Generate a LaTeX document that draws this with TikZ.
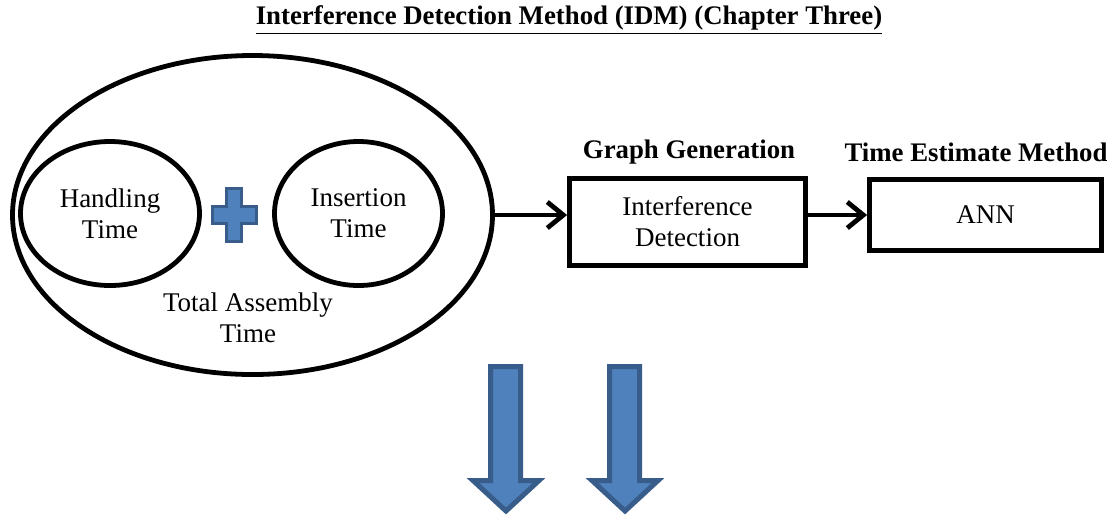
\documentclass[tikz,border=0pt]{standalone}
\usepackage{fontspec}
\setmainfont{Liberation Serif}
\usetikzlibrary{shapes.geometric,arrows.meta}
\definecolor{fillblue}{HTML}{4F81BD}
\definecolor{edgeblue}{HTML}{385D8A}
\begin{document}
\begin{tikzpicture}[x=0.5pt,y=-0.5pt,
  font=\fontsize{13.5}{15.5}\selectfont,
  ell/.style={ellipse, draw=black, line width=2.4pt, inner sep=0pt, align=center},
  boxnode/.style={rectangle, draw=black, line width=2.4pt, inner sep=0pt, align=center},
  lbl/.style={inner sep=0pt, font=\fontsize{13.4}{15.5}\selectfont\bfseries},
  conn/.style={draw=black, line width=2.4pt, -{Straight Barb[length=8pt,width=13pt,line width=2.4pt]}},
  bluearrow/.style={fill=fillblue, draw=edgeblue, line width=2.5pt, line join=miter},
  plusshape/.style={fill=fillblue, draw=edgeblue, line width=1.6pt, line join=miter}]
\useasboundingbox (0,0) rectangle (1107,516);
% title
\node[lbl] (title) at (569,20) {\underline{Interference Detection Method (IDM) (Chapter Three)}};
% ellipses
\node[ell, minimum width=240pt, minimum height=159.5pt] (outer) at (252.5,215) {};
\node[ell, minimum width=89.5pt, minimum height=72pt] (handling) at (110,213.5) {Handling\\Time};
\node[ell, minimum width=84pt, minimum height=72pt] (insertion) at (358.5,213.5) {Insertion\\Time};
\node[inner sep=0pt, align=center] (total) at (248,318) {Total Assembly\\Time};
% plus sign
\draw[plusshape] (226.5,188.5) -- (241.5,188.5) -- (241.5,206.5) -- (256.5,206.5) -- (256.5,223.5)
  -- (241.5,223.5) -- (241.5,241.5) -- (226.5,241.5) -- (226.5,223.5) -- (212.5,223.5)
  -- (212.5,206.5) -- (226.5,206.5) -- cycle;
% boxes
\node[boxnode, minimum width=118pt, minimum height=43.5pt] (detect) at (687.5,222) {Interference\\Detection};
\node[boxnode, minimum width=116pt, minimum height=35.5pt] (ann) at (985.5,215) {ANN};
\node[lbl] (graphgen) at (689,152) {Graph Generation};
\node[lbl] (timeest) at (976,152) {Time Estimate Method};
% connectors
\draw[conn] (outer.east) -- (detect.west |- outer.east);
\draw[conn] (detect.east |- ann.west) -- (ann.west);
% down arrows
\draw[bluearrow] (490.5,366.5) -- (520.5,366.5) -- (520.5,480.5) -- (539,480.5) -- (506,511)
  -- (473,480.5) -- (490.5,480.5) -- cycle;
\draw[bluearrow] (609.5,366.5) -- (639.5,366.5) -- (639.5,480.5) -- (658,480.5) -- (625,511)
  -- (592,480.5) -- (609.5,480.5) -- cycle;
\end{tikzpicture}
\end{document}
